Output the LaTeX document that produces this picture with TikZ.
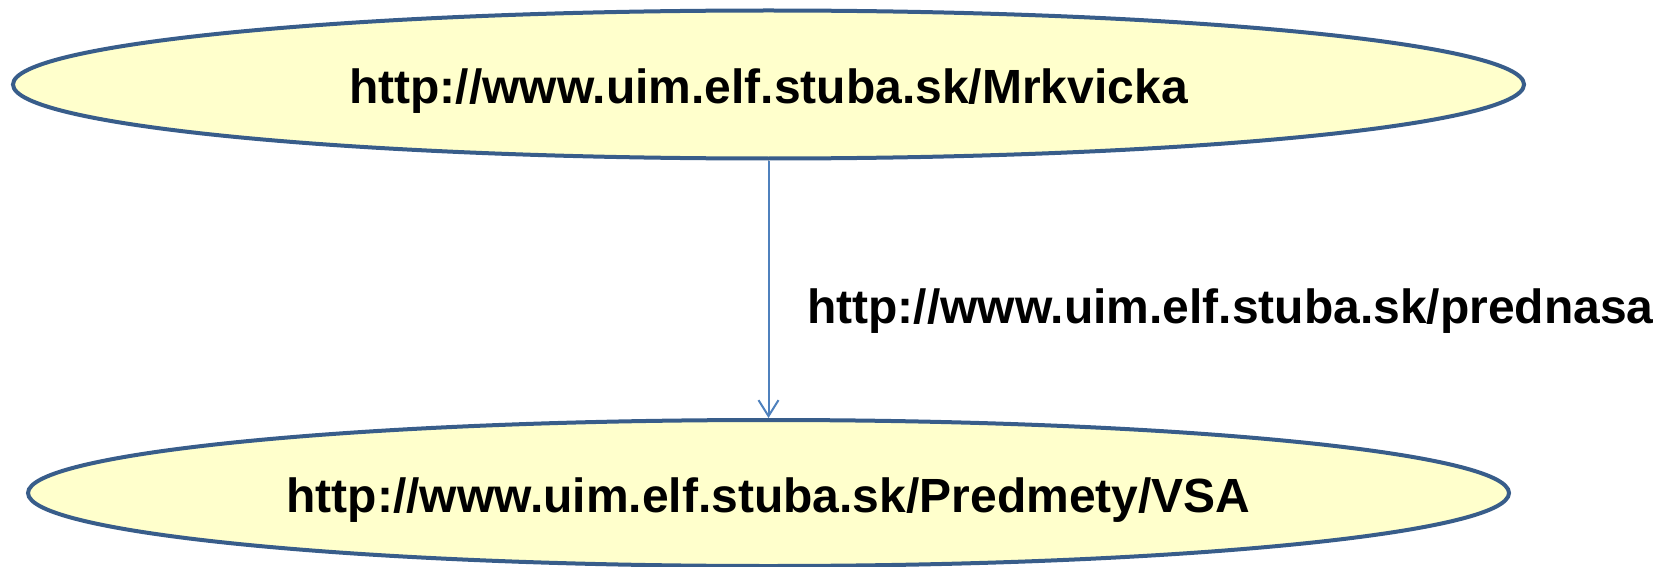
\documentclass[tikz,border=0pt]{standalone}
\usepackage{fontspec}
\setmainfont{Liberation Sans}
\usetikzlibrary{shapes.geometric,arrows.meta}
\definecolor{edgeblue}{HTML}{385D8A}
\definecolor{arrowblue}{HTML}{4F81BD}
\definecolor{fillyellow}{HTML}{FFFFCC}
\tikzset{
  uribox/.style={ellipse, draw=edgeblue, fill=fillyellow, line width=4pt,
    inner sep=0pt, font=\fontsize{48}{56}\selectfont\bfseries,
    text height=38pt, text depth=0pt},
  relarrow/.style={draw=arrowblue, line width=2pt,
    -{Straight Barb[length=16pt,width=20pt,line width=2pt]}},
  rellabel/.style={inner sep=0pt, anchor=base west,
    font=\fontsize{48}{56}\selectfont\bfseries}
}
\begin{document}
\begin{tikzpicture}[x=1pt,y=-1pt]
\useasboundingbox (0,0) rectangle (1662,567);
\node[uribox, minimum width=1511pt, minimum height=148pt] (subj) at (768.5,84.5) {http://www.uim.elf.stuba.sk/Mrkvicka};
\node[uribox, minimum width=1481pt, minimum height=146pt] (obj) at (768.5,493) {http://www.uim.elf.stuba.sk/Predmety/VSA};
\draw[relarrow] (subj.south) -- (obj.north);
\node[rellabel] (pred) at (807,323.3) {http://www.uim.elf.stuba.sk/prednasa};
\end{tikzpicture}
\end{document}
